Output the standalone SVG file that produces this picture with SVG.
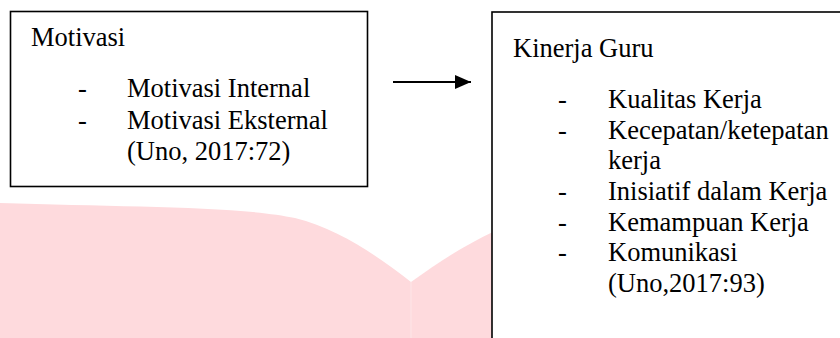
<svg xmlns="http://www.w3.org/2000/svg" width="840" height="338" viewBox="0 0 840 338">
  <style>
    .box { fill: #ffffff; stroke: #000000; stroke-width: 1.6; }
    .t { font-size: 26.5px; fill: #000000; }
    .bg { fill: #fedadd; }
  </style>
  <defs>
    <marker id="arrow" markerWidth="16" markerHeight="14" refX="16" refY="7" orient="auto" markerUnits="userSpaceOnUse">
      <path d="M0,0 L16,7 L0,14 Z" fill="#000000"/>
    </marker>
  </defs>
  <rect width="840" height="338" fill="#ffffff"/>
  <g id="watermark">
    <path class="bg" d="M0,203 C120,207 240,206 295,218 C340,229 380,258 411,282 L411,338 L0,338 Z"/>
    <path class="bg" d="M411,282 C440,261 465,245 495,231 L495,338 L411,338 Z"/>
    <line x1="411" y1="282" x2="411" y2="338" stroke="#fde6e8" stroke-width="1"/>
  </g>
  <g id="node-motivasi" font-family="Liberation Serif, DejaVu Serif, serif">
    <rect class="box" x="10.5" y="11.5" width="357" height="175"/>
    <text class="t" x="31" y="46">Motivasi</text>
    <text class="t" x="78" y="97">-</text>
    <text class="t" x="127" y="97">Motivasi Internal</text>
    <text class="t" x="78" y="129">-</text>
    <text class="t" x="127" y="129">Motivasi Eksternal</text>
    <text class="t" x="127" y="160">(Uno, 2017:72)</text>
  </g>
  <g id="node-kinerja" font-family="Liberation Serif, DejaVu Serif, serif">
    <rect class="box" x="492" y="12" width="370" height="350"/>
    <text class="t" x="513" y="57">Kinerja Guru</text>
    <text class="t" x="558" y="108">-</text>
    <text class="t" x="608" y="108">Kualitas Kerja</text>
    <text class="t" x="558" y="138.7">-</text>
    <text class="t" x="608" y="138.7">Kecepatan/ketepatan</text>
    <text class="t" x="608" y="169.3">kerja</text>
    <text class="t" x="558" y="200">-</text>
    <text class="t" x="608" y="200">Inisiatif dalam Kerja</text>
    <text class="t" x="558" y="230.7">-</text>
    <text class="t" x="608" y="230.7">Kemampuan Kerja</text>
    <text class="t" x="558" y="261.3">-</text>
    <text class="t" x="608" y="261.3">Komunikasi</text>
    <text class="t" x="608" y="292">(Uno,2017:93)</text>
  </g>
  <g id="connectors">
    <line x1="393" y1="82" x2="471" y2="82" stroke="#000000" stroke-width="2" marker-end="url(#arrow)"/>
  </g>
</svg>
